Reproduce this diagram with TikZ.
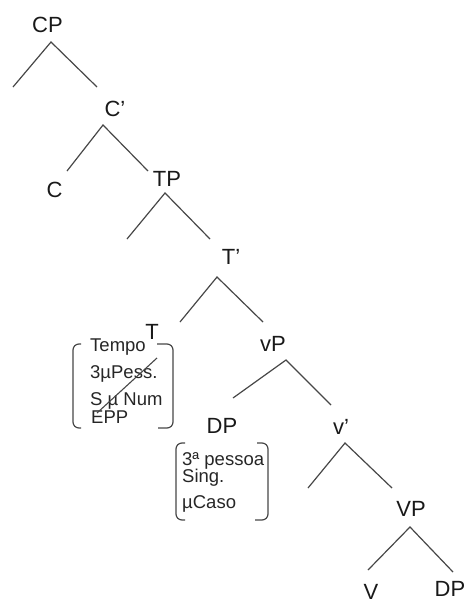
\documentclass[tikz,border=0pt]{standalone}
\usepackage{fontspec}
\setmainfont{Liberation Sans}
\begin{document}
\begin{tikzpicture}[x=1pt,y=-1pt,
  cat/.style={inner sep=0pt,anchor=base,text=black!90,font=\fontsize{22}{26}\selectfont},
  feat/.style={inner sep=0pt,anchor=base west,text=black!85,font=\fontsize{18.5}{21}\selectfont},
  branch/.style={draw=black!72,line width=1.2pt},
  brack/.style={draw=black!72,line width=1.2pt,rounded corners=6pt}]
\useasboundingbox (0,0) rectangle (467,605);

% category labels
\node[cat] (CP)  at (47.5,32)  {CP};
\node[cat] (Cb)  at (115,116)  {C'};
\node[cat] (C)   at (54.5,197) {C};
\node[cat] (TP)  at (167,186)  {TP};
\node[cat] (Tb)  at (231,264)  {T'};
\node[cat] (T)   at (152,339)  {T};
\node[cat] (vP)  at (273,351)  {vP};
\node[cat] (DP)  at (222,433)  {DP};
\node[cat] (vb)  at (341,434)  {v'};
\node[cat] (VP)  at (411,516)  {VP};
\node[cat] (V)   at (371,599)  {V};
\node[cat] (DPo) at (450,596)  {DP};

% branch points
\coordinate (CP-a) at (51,42);   \coordinate (CP-l) at (13,87);   \coordinate (CP-r) at (97,87);
\coordinate (Cb-a) at (103,125); \coordinate (Cb-l) at (67,171);  \coordinate (Cb-r) at (148,171);
\coordinate (TP-a) at (165,193); \coordinate (TP-l) at (127,239); \coordinate (TP-r) at (210,239);
\coordinate (Tb-a) at (217,277); \coordinate (Tb-l) at (180,322); \coordinate (Tb-r) at (263,322);
\coordinate (vP-a) at (286,360); \coordinate (vP-l) at (233,398); \coordinate (vP-r) at (331,405);
\coordinate (vb-a) at (345,443); \coordinate (vb-l) at (308,488); \coordinate (vb-r) at (392,488);
\coordinate (VP-a) at (410,527); \coordinate (VP-l) at (368,570); \coordinate (VP-r) at (453,572);

\foreach \n in {CP,Cb,TP,Tb,vP,vb,VP}{
  \draw[branch] (\n-l) -- (\n-a) -- (\n-r);
}

% features of T
\node[feat] (t1) at (90,351) {Tempo};
\node[feat] (t2) at (90,378) {3µPess.};
\node[feat] (t3) at (90,405) {S µ Num};
\node[feat] (t4) at (91,423) {EPP};
\draw[brack] (81,344) -- (73,344) -- (73,428) -- (81,428);
\draw[brack] (157,344) -- (173,344) -- (173,428) -- (158,428);
\coordinate (x1) at (97,413); \coordinate (x2) at (157,358);
\draw[draw=black!72,line width=1.1pt] (x1) -- (x2);

% features of DP
\node[feat] (d1) at (182,465) {3ª pessoa};
\node[feat] (d2) at (182,482) {Sing.};
\node[feat] (d3) at (182,508) {µCaso};
\draw[brack] (185,443) -- (176,443) -- (176,520) -- (185,520);
\draw[brack] (257,443) -- (268,443) -- (268,520) -- (255,520);
\end{tikzpicture}
\end{document}
